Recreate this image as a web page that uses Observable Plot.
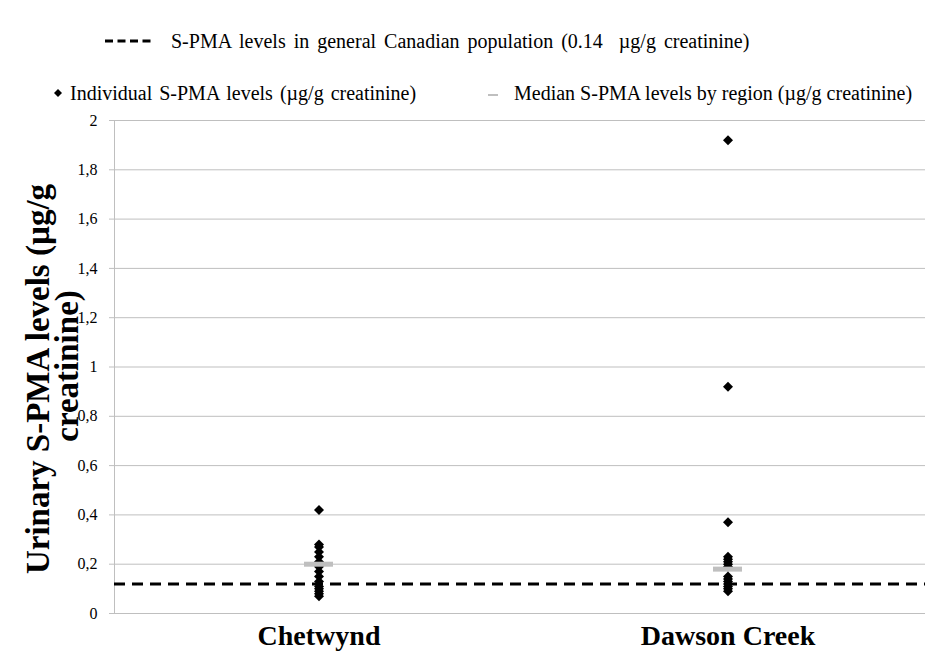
<!DOCTYPE html>
<html>
<head>
<meta charset="utf-8">
<script src="https://cdn.jsdelivr.net/npm/d3@7"></script>
<script src="https://cdn.jsdelivr.net/npm/@observablehq/plot@0.6"></script>
<style>
  html, body { margin: 0; padding: 0; background: #fff; }
  #wrap { position: relative; width: 925px; height: 652px; overflow: hidden; font-family: "Liberation Serif", "Times New Roman", serif; color: #000; }
  .leg { position: absolute; font-size: 20px; white-space: nowrap; line-height: 1; }
  #chart { position: absolute; left: 0; top: 105px; }
</style>
</head>
<body>
<div id="wrap">
  <svg style="position:absolute;left:104px;top:35px" width="48" height="12">
    <line x1="1" x2="47" y1="6" y2="6" stroke="#000" stroke-width="3" stroke-dasharray="8,4.5"></line>
  </svg>
  <div class="leg" id="leg1" style="left:171px;top:31px;word-spacing:3px;">S-PMA levels in general Canadian population (0.14&nbsp; µg/g creatinine)</div>
  <svg style="position:absolute;left:52px;top:87px" width="12" height="12">
    <path d="M6,2 L10,6 L6,10 L2,6 Z" fill="#000"></path>
  </svg>
  <div class="leg" id="leg2" style="left:70px;top:83px;word-spacing:2px;">Individual S-PMA levels (µg/g creatinine)</div>
  <svg style="position:absolute;left:486px;top:87px" width="14" height="12">
    <line x1="2" x2="12" y1="8" y2="8" stroke="#bfbfbf" stroke-width="2"></line>
  </svg>
  <div class="leg" id="leg3" style="left:514px;top:83px;">Median S-PMA levels by region (µg/g creatinine)</div>
  <div id="chart"></div>
</div>
<script>
const categories = ["Chetwynd", "Dawson Creek"];
const chetwyndValues = [0.42, 0.28, 0.27, 0.25, 0.23, 0.21, 0.19, 0.17, 0.15, 0.13, 0.11, 0.10, 0.09, 0.08, 0.07];
const dawsonValues = [1.92, 0.92, 0.37, 0.23, 0.22, 0.21, 0.20, 0.19, 0.15, 0.14, 0.13, 0.12, 0.11, 0.10, 0.09];
const medianValues = [0.20, 0.18];
const referenceLevel = 0.12;
const yTicks = [0, 0.2, 0.4, 0.6, 0.8, 1, 1.2, 1.4, 1.6, 1.8, 2];
const yTitleLines = ["Urinary S-PMA levels (µg/g", "creatinine)"];

const points = [
  ...chetwyndValues.map(v => ({region: categories[0], value: v})),
  ...dawsonValues.map(v => ({region: categories[1], value: v}))
];
const medians = categories.map((c, i) => ({region: c, value: medianValues[i]}));

const serif = "Liberation Serif, Times New Roman, serif";
const grey = "#bfbfbf";
const titleStyle = {frameAnchor: "left", rotate: -90, fontSize: 33, fontWeight: "bold", fill: "#000", textAnchor: "middle"};

const chart = Plot.plot({
  width: 925,
  height: 547,
  marginTop: 15,
  marginBottom: 39,
  marginLeft: 114,
  marginRight: 0,
  style: {fontFamily: serif, background: "#fff", overflow: "visible"},
  x: {type: "band", domain: categories, range: [114, 932], padding: 0},
  y: {domain: [0, 2]},
  marks: [
    Plot.gridY(yTicks, {stroke: grey, strokeOpacity: 1, strokeWidth: 1}),
    Plot.frame({anchor: "left", stroke: grey, strokeWidth: 1}),
    Plot.axisY({ticks: yTicks, tickFormat: d => String(d).replace(".", ","), tickSize: 5, tickPadding: 12, stroke: grey, fill: "#000", fontSize: 16, label: null}),
    Plot.axisX({tickSize: 0, tickPadding: 12, fontSize: 28, fontWeight: "bold", fill: "#000", label: null}),
    Plot.ruleY([referenceLevel], {stroke: "#000", strokeWidth: 3, strokeDasharray: "11,7"}),
    Plot.dot(points, {x: "region", y: "value", symbol: "diamond2", fill: "#000", stroke: "none", r: 4.5}),
    Plot.tickY(medians, {x: "region", y: "value", stroke: grey, strokeWidth: 5, insetLeft: 190, insetRight: 190}),
    Plot.text([yTitleLines[0]], {...titleStyle, text: d => d, dx: -76, dy: 12}),
    Plot.text([yTitleLines[1]], {...titleStyle, text: d => d, dx: -47, dy: -1})
  ]
});
document.getElementById("chart").appendChild(chart);
</script>
</body>
</html>
